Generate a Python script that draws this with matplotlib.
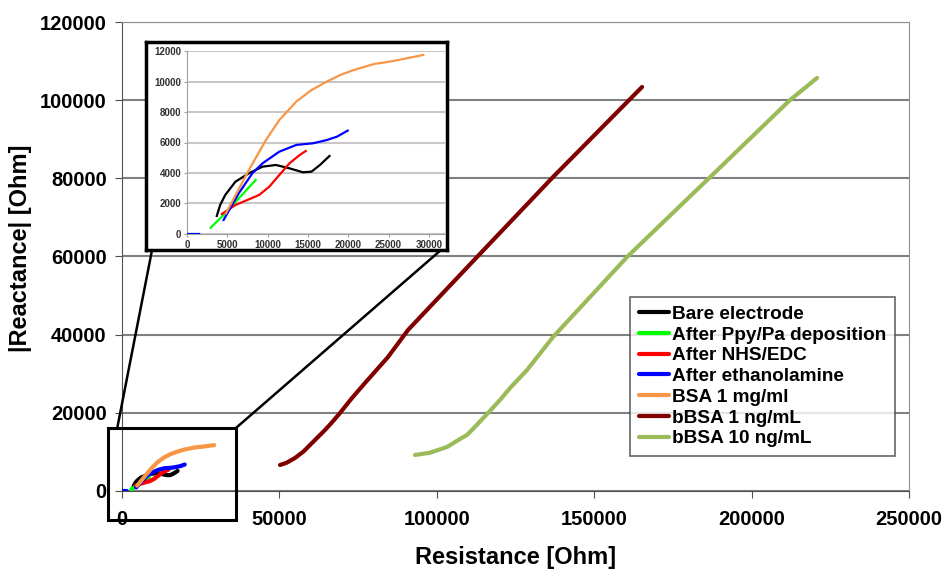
import matplotlib
matplotlib.use("Agg")
import matplotlib.pyplot as plt
import numpy as np
from matplotlib.patches import Rectangle, ConnectionPatch

plt.rcParams['font.family'] = ['Liberation Sans', 'DejaVu Sans']
plt.rcParams['font.weight'] = 'bold'

# series: resistance (Ohm), |reactance| (Ohm)
bare_x = [3690, 4110, 4740, 6000, 7680, 9360, 11035, 12710, 14390, 15440, 16490, 17665]
bare_y = [1180, 1900, 2560, 3430, 3980, 4415, 4525, 4306, 4044, 4090, 4525, 5115]

ppy_x = [2940, 4740, 6420, 8520]
ppy_y = [415, 1355, 2340, 3540]

nhs_x = [4320, 6000, 7680, 8940, 10200, 11450, 12710, 13970, 14730]
nhs_y = [1310, 1900, 2273, 2560, 3100, 3870, 4635, 5180, 5443]

eth_x = [0, 1500, np.nan, 4530, 6420, 8100, 9360, 11450, 13550, 15650, 17330, 18590, 19930]
eth_y = [0, 0, np.nan, 918, 2670, 3980, 4630, 5400, 5840, 5950, 6160, 6380, 6780]

bsa_x = [4825, 7680, 9780, 11450, 13550, 15440, 17330, 19010, 20690, 23200, 24880, 26560, 29290]
bsa_y = [1355, 4200, 6160, 7475, 8680, 9440, 9990, 10430, 10755, 11150, 11280, 11450, 11740]

bbsa1_x = [50200, 52330, 54960, 57600, 60360, 62370, 64490, 66620, 69260, 72980, 77200,
           84510, 90860, 112780, 136930, 165200]
bbsa1_y = [6650, 7240, 8450, 10060, 12280, 13900, 15610, 17480, 19960, 23720, 27640,
           34290, 41200, 59880, 80350, 103380]

bbsa10_x = [93090, 97850, 103250, 106850, 109600, 112690, 116280, 120090, 123270, 128670,
            136930, 160440, 177280, 185860, 212230, 220810]
bbsa10_y = [9210, 9800, 11260, 13050, 14330, 16890, 19960, 23290, 26360, 30960,
            39410, 59880, 72940, 79580, 100060, 105690]

series = [
    ("Bare electrode", bare_x, bare_y, "#000000"),
    ("After Ppy/Pa deposition", ppy_x, ppy_y, "#00FF00"),
    ("After NHS/EDC", nhs_x, nhs_y, "#FF0000"),
    ("After ethanolamine", eth_x, eth_y, "#0000FF"),
    ("BSA 1 mg/ml", bsa_x, bsa_y, "#F79646"),
    ("bBSA 1 ng/mL", bbsa1_x, bbsa1_y, "#800000"),
    ("bBSA 10 ng/mL", bbsa10_x, bbsa10_y, "#9BBB59"),
]
inset_names = ["Bare electrode", "After Ppy/Pa deposition", "After NHS/EDC",
               "After ethanolamine", "BSA 1 mg/ml"]

fig = plt.figure(figsize=(9.47, 5.70), dpi=100)
ax = fig.add_axes([0.1288, 0.1386, 0.8311, 0.8228])

for name, xs, ys, col in series:
    ax.plot(xs, ys, color=col, lw=3, label=name, solid_capstyle='round',
            solid_joinstyle='round', zorder=3)

ax.set_xlim(0, 250000)
ax.set_ylim(0, 120000)
ax.set_xticks(np.arange(0, 250001, 50000))
ax.set_yticks(np.arange(0, 120001, 20000))
ax.yaxis.grid(True, color='#808080', lw=1.5)
ax.set_axisbelow(True)
for s in ax.spines.values():
    s.set_color('#909090')
ax.spines['left'].set_color('#505050')
ax.spines['bottom'].set_color('#505050')
ax.tick_params(direction='out', length=5, color='#505050', labelsize=14.5)
ax.tick_params(axis='x', pad=9)
ax.tick_params(axis='y', pad=6)
ax.set_xlabel("Resistance [Ohm]", fontsize=17, fontweight='bold', labelpad=12)
ax.set_ylabel("|Reactance| [Ohm]", fontsize=17, fontweight='bold')
ax.yaxis.set_label_coords(-0.114, 0.518)

leg = ax.legend(loc='upper left', bbox_to_anchor=(0.6455, 0.4136), fontsize=13.7,
                frameon=True, fancybox=False, edgecolor='#404040', borderpad=0.45,
                labelspacing=0.18, handlelength=1.6, handletextpad=0.15, borderaxespad=0)
leg.get_frame().set_linewidth(1.2)
leg.set_zorder(5)

# zoom rectangle around the origin
zx0, zx1, zy0, zy1 = -4450, 36200, -7420, 16120
ax.add_patch(Rectangle((zx0, zy0), zx1 - zx0, zy1 - zy0, fill=False, ec='black',
                       lw=2.2, clip_on=False, zorder=4))

# framed inset box
box = fig.add_axes([0.1542, 0.5614, 0.3178, 0.365])
box.set_xticks([])
box.set_yticks([])
box.set_facecolor('white')
for s in box.spines.values():
    s.set_linewidth(2.5)
    s.set_color('black')
box.set_zorder(6)

for xa, xb in [(-1500, 0.02), (zx1, 0.98)]:
    con = ConnectionPatch(xyA=(xa, zy1), coordsA=ax.transData,
                          xyB=(xb, 0.0), coordsB=box.transAxes,
                          color='black', lw=1.8)
    fig.add_artist(con)

ins = fig.add_axes([0.1975, 0.5895, 0.2724, 0.321])
ins.set_zorder(7)
for name, xs, ys, col in series:
    if name in inset_names:
        ins.plot(xs, ys, color=col, lw=1.6, solid_joinstyle='round', zorder=3)
ins.set_xlim(0, 32000)
ins.set_ylim(0, 12000)
ins.set_xticks(np.arange(0, 30001, 5000))
ins.set_yticks(np.arange(0, 12001, 2000))
ins.yaxis.grid(True, color='#C8C8C8', lw=1.5)
ins.set_axisbelow(True)
ins.spines['top'].set_visible(False)
ins.spines['right'].set_visible(False)
ins.spines['left'].set_color('#A0A0A0')
ins.spines['bottom'].set_color('#A0A0A0')
ins.tick_params(direction='out', length=2, color='#A0A0A0', labelsize=7, pad=2,
                labelcolor='#303030')
ins.set_facecolor('none')

fig.savefig("out.png", dpi=100)
